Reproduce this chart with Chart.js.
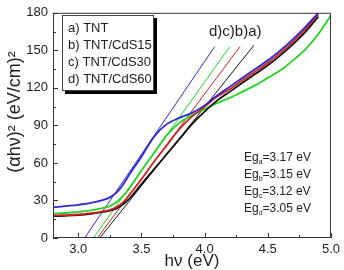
<!DOCTYPE html>
<html><head><meta charset="utf-8">
<script src="https://cdn.jsdelivr.net/npm/chart.js@4"></script>
<style>html,body{margin:0;padding:0;background:#fff}#w{width:344px;height:270px}</style>
</head><body><div id="w"><canvas id="c" width="344" height="270"></canvas></div>
<script>
const FONT = '"Liberation Sans", Arial, sans-serif';
const xTicks = [3.0, 3.5, 4.0, 4.5, 5.0];
const yTicks = [0, 30, 60, 90, 120, 150, 180];
const xs = [2.8,2.9,3.0,3.1,3.2,3.25,3.3,3.35,3.4,3.5,3.6,3.7,3.8,3.9,4.0,4.1,4.2,4.3,4.4,4.5,4.6,4.7,4.8,4.9,5.0];
const curveA = [17.5,17.8,18.3,19.3,20.8,21.8,23.5,26.5,31,43,55,67,79,91,101,110,117,124,131,138,146,155,165,177,null];
const curveB = [18,18.3,18.8,19.8,21.5,22.5,24.5,28,34,47,61,74,87,97,105,113,119,126,133,140,148,157,167,179,null];
const curveC = [19.5,20,20.8,22,24,25.5,28.5,33,39,54,68,82,92,98,103,108,112,117,122,128,134,142,151,163,178];
const curveD = [24.5,25.5,26.5,28,30.5,32.5,36,42,50,65,81,91,96,100,106,114,121,128,135,142,150,159,169,180,null];
const tanAx = [3.17, 4.39], tanAy = [0, 154];
const tanBx = [3.15, 4.28], tanBy = [0, 153];
const tanCx = [3.12, 4.20], tanCy = [0, 153];
const tanDx = [3.05, 4.08], tanDy = [0, 153];
const legendLabels = ['a) TNT', 'b) TNT/CdS15', 'c) TNT/CdS30', 'd) TNT/CdS60'];
const egSubs = ['a', 'b', 'c', 'd'];
const egValues = ['3.17', '3.15', '3.12', '3.05'];
const tangentLabel = 'd)c)b)a)';
const xTitle = 'h\u03BD (eV)';
const yTitle = '(\u03B1h\u03BD)\u00B2 (eV/cm)\u00B2';

const COL = {a:'#111111', b:'#d42020', c:'#22d422', d:'#2a2ad0'};
const pts = (xx, yy) => xx.map((v, i) => ({x: v, y: yy[i]})).filter(p => p.y !== null);

function curve(yy, color){
  return {data: pts(xs, yy), borderColor: color, borderWidth: 1.8, pointRadius: 0,
          cubicInterpolationMode: 'monotone', fill: false};
}
function tangent(xx, yy, color){
  return {data: pts(xx, yy), borderColor: color, borderWidth: 1, pointRadius: 0, fill: false};
}

const deco = {
  id: 'deco',
  afterDraw(chart){
    const {ctx, chartArea: a, scales: {x, y}} = chart;
    ctx.save();
    ctx.strokeStyle = '#333'; ctx.lineWidth = 1;
    ctx.strokeRect(a.left + 0.5, a.top + 0.5, a.right - a.left - 1, a.bottom - a.top - 1);
    ctx.beginPath();
    const xMinor = [];
    for (let i = 0; i < xTicks.length; i++){
      const v = xTicks[i];
      const px = Math.round(x.getPixelForValue(v)) + 0.5;
      ctx.moveTo(px, a.bottom); ctx.lineTo(px, a.bottom - 5);
      if (i > 0) xMinor.push((xTicks[i-1] + v) / 2);
    }
    xMinor.push(xTicks[0] - 0.25);
    xMinor.forEach(v => { if (v > x.min && v < x.max){ const px = Math.round(x.getPixelForValue(v)) + 0.5; ctx.moveTo(px, a.bottom); ctx.lineTo(px, a.bottom - 3);} });
    for (let i = 0; i < yTicks.length; i++){
      const v = yTicks[i];
      const py = Math.round(y.getPixelForValue(v)) + 0.5;
      ctx.moveTo(a.left, py); ctx.lineTo(a.left + 5, py);
      if (i > 0){ const m = (yTicks[i-1] + v) / 2; const pm = Math.round(y.getPixelForValue(m)) + 0.5; ctx.moveTo(a.left, pm); ctx.lineTo(a.left + 3, pm); }
    }
    ctx.stroke();

    // legend box with shadow
    ctx.fillStyle = '#000';
    ctx.fillRect(65, 18, 92, 76);
    ctx.fillStyle = '#fff';
    ctx.fillRect(62, 15, 92, 76);
    ctx.strokeStyle = '#444';
    ctx.strokeRect(62.5, 15.5, 91, 75);
    ctx.fillStyle = '#222';
    ctx.font = '13px ' + FONT;
    ctx.textBaseline = 'middle'; ctx.textAlign = 'left';
    legendLabels.forEach((t, i) => ctx.fillText(t, 68, 28 + i * 17));

    // tangent label
    ctx.font = '15px ' + FONT;
    ctx.fillText(tangentLabel, 209, 32);

    // Eg values
    egSubs.forEach((s, i) => {
      const yy = 158 + i * 17;
      let xx = 244;
      ctx.font = '12px ' + FONT;
      ctx.fillText('Eg', xx, yy);
      xx += ctx.measureText('Eg').width;
      ctx.font = '7px ' + FONT;
      ctx.fillText(s, xx, yy + 4);
      xx += ctx.measureText(s).width;
      ctx.font = '12px ' + FONT;
      ctx.fillText('=' + egValues[i] + ' eV', xx, yy);
    });

    // axis titles
    ctx.fillStyle = '#222';
    ctx.font = '17px ' + FONT;
    ctx.textAlign = 'center';
    ctx.fillText(xTitle, (a.left + a.right) / 2, 261);
    ctx.save();
    ctx.translate(15, 112);
    ctx.rotate(-Math.PI / 2);
    ctx.font = '18px ' + FONT;
    ctx.fillText(yTitle, 0, 0);
    ctx.restore();
    ctx.restore();
  }
};

new Chart(document.getElementById('c'), {
  type: 'line',
  data: {datasets: [
    curve(curveD, COL.d), curve(curveB, COL.b), curve(curveA, COL.a), curve(curveC, COL.c),
    tangent(tanDx, tanDy, COL.d), tangent(tanCx, tanCy, COL.c), tangent(tanBx, tanBy, COL.b), tangent(tanAx, tanAy, COL.a)
  ]},
  options: {
    responsive: false, animation: false,
    layout: {padding: {top: 8, right: 9, left: 0, bottom: 0}},
    plugins: {legend: {display: false}, tooltip: {enabled: false}},
    scales: {
      x: {type: 'linear', min: 2.8, max: 5.0,
        afterBuildTicks: s => { s.ticks = xTicks.map(v => ({value: v})); },
        afterFit: s => { s.height = 32; },
        grid: {display: false, drawTicks: false}, border: {display: false},
        ticks: {callback: v => Number(v).toFixed(1), font: {size: 13, family: FONT}, color: '#222', padding: 4, maxRotation: 0, autoSkip: false}},
      y: {type: 'linear', min: 0, max: 180,
        afterBuildTicks: s => { s.ticks = yTicks.map(v => ({value: v})); },
        afterFit: s => { s.width = 53; },
        grid: {display: false, drawTicks: false}, border: {display: false},
        ticks: {font: {size: 13, family: FONT}, color: '#222', padding: 5, autoSkip: false}}
    }
  },
  plugins: [deco]
});
</script>
</body></html>
